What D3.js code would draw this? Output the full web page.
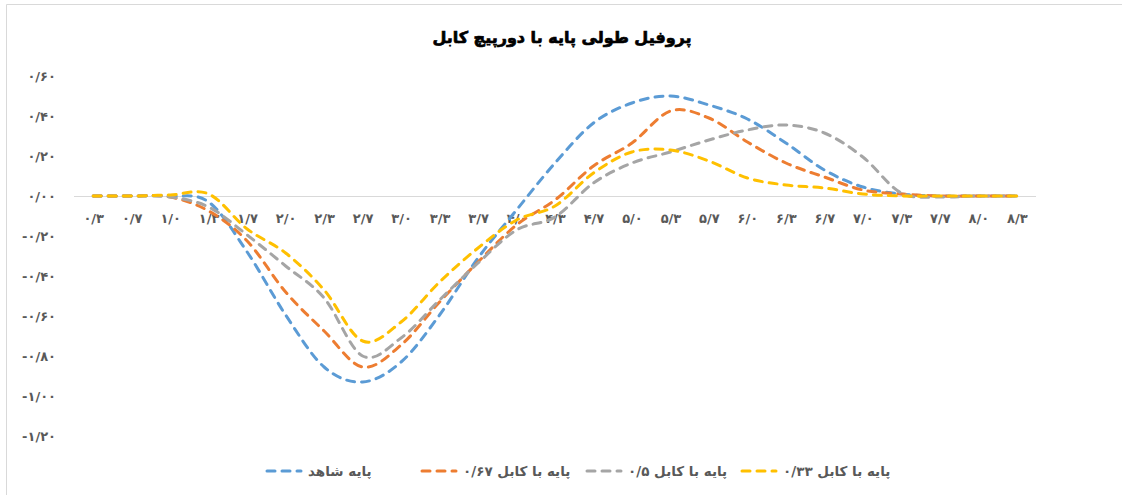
<!DOCTYPE html>
<html>
<head>
<meta charset="utf-8">
<script src="https://cdn.jsdelivr.net/npm/d3@7"></script>
<style>
  html, body { margin: 0; padding: 0; background: #fff; }
  svg { display: block; }
</style>
</head>
<body>
<script>
// Category labels (distance along the pile) and the four profiles
const categories = ["۰/۳","۰/۷","۱/۰","۱/۳","۱/۷","۲/۰","۲/۳","۲/۷","۳/۰","۳/۳","۳/۷","۴/۰","۴/۳","۴/۷","۵/۰","۵/۳","۵/۷","۶/۰","۶/۳","۶/۷","۷/۰","۷/۳","۷/۷","۸/۰","۸/۳"];

const controlPile = [0,0,0,-0.03,-0.28,-0.595,-0.855,-0.93,-0.83,-0.595,-0.31,-0.07,0.165,0.365,0.465,0.5,0.455,0.385,0.265,0.13,0.045,0.01,0,0,0];
const cable067   = [0,0,-0.005,-0.075,-0.225,-0.48,-0.675,-0.855,-0.745,-0.53,-0.33,-0.145,-0.02,0.15,0.265,0.425,0.39,0.27,0.165,0.095,0.03,0.01,0,0,0];
const cable05    = [0,0,-0.005,-0.055,-0.195,-0.35,-0.51,-0.8,-0.71,-0.52,-0.335,-0.17,-0.105,0.065,0.165,0.22,0.28,0.33,0.355,0.315,0.195,0.015,-0.005,0,0];
const cable033   = [0,0,0.005,0.01,-0.165,-0.285,-0.47,-0.725,-0.63,-0.43,-0.26,-0.12,-0.05,0.115,0.22,0.23,0.175,0.09,0.055,0.04,0.01,0,0,0,0];

const seriesNames = ["پایه شاهد","پایه با کابل ۰/۶۷","پایه با کابل ۰/۵","پایه با کابل ۰/۳۳"];
const seriesColors = ["#5B9BD5","#ED7D31","#A5A5A5","#FFC000"];
const yTicks = [0.6,0.4,0.2,0,-0.2,-0.4,-0.6,-0.8,-1.0,-1.2];
const yTickLabels = ["۰/۶۰","۰/۴۰","۰/۲۰","۰/۰۰","-۰/۲۰","-۰/۴۰","-۰/۶۰","-۰/۸۰","-۱/۰۰","-۱/۲۰"];
const chartTitle = "پروفیل طولی پایه با دورپیچ کابل";

const series = [controlPile, cable067, cable05, cable033];

const W = 1122, H = 495;
const plot = { left: 74, right: 1036, top: 76, bottom: 436 };
const font = "'DejaVu Sans', sans-serif";

const svg = d3.select("body").append("svg").attr("width", W).attr("height", H);

// chart area frame (top and left edges)
svg.append("path")
  .attr("d", `M6.5,${H} L6.5,4.5 L${W},4.5`)
  .attr("fill", "none").attr("stroke", "#d9d9d9").attr("stroke-width", 1);

const x = d3.scalePoint().domain(categories).range([plot.left, plot.right]).padding(0.5);
const y = d3.scaleLinear().domain([-1.2, 0.6]).range([plot.bottom, plot.top]);

// title
svg.append("text")
  .attr("x", 562).attr("y", 43)
  .attr("text-anchor", "middle")
  .attr("direction", "rtl")
  .attr("font-family", font).attr("font-weight", "bold").attr("font-size", 16)
  .attr("fill", "#000").attr("stroke", "#000").attr("stroke-width", 0.7)
  .text(chartTitle);

// zero line
svg.append("line")
  .attr("x1", plot.left).attr("x2", plot.right)
  .attr("y1", Math.round(y(0)) + 0.5).attr("y2", Math.round(y(0)) + 0.5)
  .attr("stroke", "#d9d9d9").attr("stroke-width", 1);

// y axis labels
const yAxis = d3.axisLeft(y).tickValues(yTicks)
  .tickFormat((d, i) => yTickLabels[i]).tickSize(0).tickPadding(0);
const yg = svg.append("g").attr("transform", "translate(56,0)").call(yAxis);
yg.select(".domain").remove();
yg.selectAll("text")
  .attr("font-family", font).attr("font-weight", "bold").attr("font-size", 13)
  .attr("fill", "#595959");

// x axis labels next to the zero line
const xAxis = d3.axisBottom(x).tickSize(0).tickPadding(0);
const xg = svg.append("g").attr("transform", `translate(0,${y(0) + 18})`).call(xAxis);
xg.select(".domain").remove();
xg.selectAll("text")
  .attr("font-family", font).attr("font-weight", "bold").attr("font-size", 13)
  .attr("fill", "#595959");

// smoothed dashed profiles
const line = d3.line()
  .x((d, i) => x(categories[i]))
  .y(d => y(d))
  .curve(d3.curveCardinal.tension(0));

series.forEach((vals, k) => {
  svg.append("path")
    .datum(vals)
    .attr("d", line)
    .attr("fill", "none")
    .attr("stroke", seriesColors[k])
    .attr("stroke-width", 3)
    .attr("stroke-dasharray", "8,7")
    .attr("stroke-linecap", "round");
});

// legend
const legendX = [265, 420, 585, 740];
const lg = svg.append("g").attr("transform", "translate(0,471)");
seriesNames.forEach((name, k) => {
  lg.append("line")
    .attr("x1", legendX[k] + 2).attr("x2", legendX[k] + 36)
    .attr("y1", 0).attr("y2", 0)
    .attr("stroke", seriesColors[k]).attr("stroke-width", 3)
    .attr("stroke-dasharray", "8,7").attr("stroke-linecap", "round");
  lg.append("text")
    .attr("x", legendX[k] + 43).attr("y", 5)
    .attr("text-anchor", "end")
    .attr("direction", "rtl")
    .attr("font-family", font).attr("font-weight", "bold").attr("font-size", 13.5)
    .attr("fill", "#595959")
    .text(name);
});
</script>
</body>
</html>
